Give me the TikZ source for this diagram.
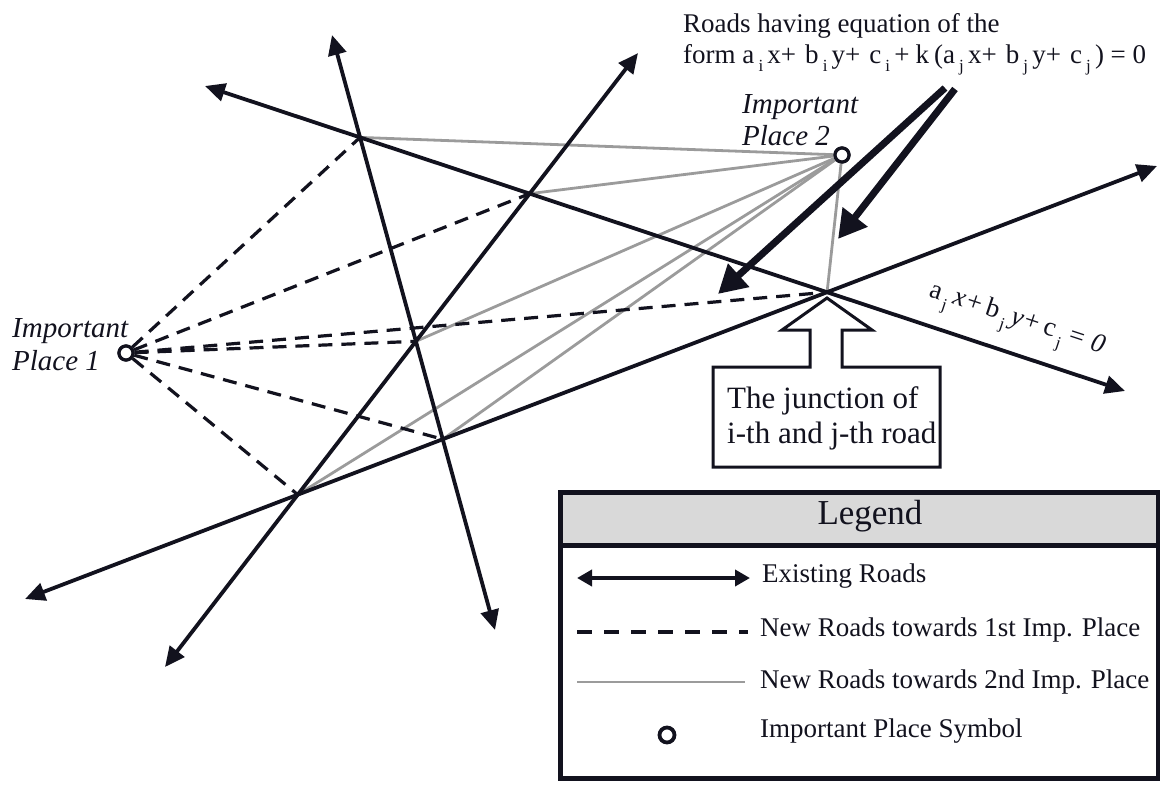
\documentclass[tikz,border=0pt]{standalone}
\usepackage{fontspec}
\setmainfont{Liberation Serif}
\usetikzlibrary{arrows.meta}
\definecolor{ink}{RGB}{18,18,30}
\definecolor{newgray}{RGB}{155,155,155}
\definecolor{hdr}{RGB}{217,217,217}
\newcommand\sbx[1]{\makebox[13pt][c]{\raisebox{-9pt}{\fontsize{17}{17}\selectfont #1}}}
\begin{document}
\begin{tikzpicture}[x=1pt,y=-1pt,
  road/.style={line width=3.8pt, draw=ink, {Triangle[length=20pt,width=18pt]}-{Triangle[length=20pt,width=18pt]}},
  legroad/.style={line width=3.8pt, draw=ink, {Triangle[length=15pt,width=16pt]}-{Triangle[length=15pt,width=16pt]}},
  newone/.style={line width=3.2pt, draw=ink, dash pattern=on 14pt off 9pt},
  newtwo/.style={line width=2.8pt, draw=newgray},
  place/.style={circle, draw=ink, line width=3.2pt, fill=white, minimum size=14pt, inner sep=0pt},
  bigarrow/.style={line width=7pt, draw=ink, -{Triangle[length=28pt,width=30pt]}},
  txt/.style={font=\fontsize{27}{31}\selectfont, inner sep=0pt, text=ink},
  itxt/.style={font=\fontsize{29}{32}\selectfont\itshape, inner sep=0pt, text=ink},
  jtxt/.style={font=\fontsize{31}{35}\selectfont, inner sep=0pt, text=ink}]
\useasboundingbox (0,0) rectangle (1160,787);

% road end points
\coordinate (A1) at (205,86);  \coordinate (A2) at (1125,391);
\coordinate (B1) at (332,35);  \coordinate (B2) at (495,630);
\coordinate (C1) at (638,53);  \coordinate (C2) at (165,667);
\coordinate (D1) at (25,599);  \coordinate (D2) at (1157,166);
% junctions
\coordinate (AB) at (intersection of A1--A2 and B1--B2);
\coordinate (AC) at (intersection of A1--A2 and C1--C2);
\coordinate (AD) at (intersection of A1--A2 and D1--D2);
\coordinate (BC) at (intersection of B1--B2 and C1--C2);
\coordinate (BD) at (intersection of B1--B2 and D1--D2);
\coordinate (CD) at (intersection of C1--C2 and D1--D2);

% important places
\node[place] (p1) at (126,353) {};
\node[place] (p2) at (842,155) {};

% new roads
\foreach \t in {AB,AC,AD,BC,BD,CD} {
  \draw[newtwo] (\t) -- (p2);
}
\foreach \t in {AB,AC,AD,BC,BD,CD} {
  \draw[newone] (p1) -- (\t);
}

% existing roads
\draw[road] (A1) -- (A2);
\draw[road] (B1) -- (B2);
\draw[road] (C1) -- (C2);
\draw[road] (D1) -- (D2);

% redraw places on top
\node[place] at (p1) {};
\node[place] at (p2) {};

% labels of places
\node[itxt, anchor=base west] (l1a) at (12,337) {Important};
\node[itxt, anchor=base west] (l1b) at (12,370) {Place 1};
\node[itxt, anchor=base west] (l2a) at (742,113) {Important};
\node[itxt, anchor=base west] (l2b) at (742,145) {Place 2};

% equation text
\node[txt, anchor=base west] (eq1) at (683,32) {Roads having equation of the};
\node[txt, anchor=base west] (eq2) at (683,63) {form a\sbx{i}x+\hspace{9pt}b\sbx{i}y+\hspace{9pt}c\sbx{i}+\hspace{6pt}k\hspace{5pt}(a\sbx{j}x+\hspace{9pt}b\sbx{j}y+\hspace{9pt}c\sbx{j}) = 0};

% big arrows
\coordinate (e1) at (945,88); \coordinate (t1) at (718,294);
\coordinate (e2) at (955,89); \coordinate (t2) at (838,239);
\draw[bigarrow] (e1) -- (t1);
\draw[bigarrow] (e2) -- (t2);

% road label
\node[txt, rotate=-18.3, anchor=center] (aj) at (1016,322)
  {a\sbx{j}\textit{x+}\hspace{4pt}b\sbx{j}\textit{y+}\hspace{4pt}c\sbx{j}\textit{= 0}};

% junction callout
\coordinate (tip) at (827,298);
\draw[line width=3pt, draw=ink, fill=white, line join=miter]
  (tip) -- (872,330) -- (842,330) -- (842,367) -- (940,367) -- (940,467)
  -- (713,467) -- (713,367) -- (810,367) -- (810,330) -- (782,330) -- cycle;
\node[jtxt, anchor=base west] (j1) at (727,408) {The junction of};
\node[jtxt, anchor=base west] (j2) at (727,443) {i-th and j-th road};

% legend
\fill[hdr] (560,492) rectangle (1158,545);
\draw[line width=5pt, draw=ink] (560,545) -- (1158,545);
\draw[line width=5pt, draw=ink] (560,492) rectangle (1158,778);
\node[txt, font=\fontsize{35}{38}\selectfont, anchor=mid] (lg) at (870,522) {Legend};

\coordinate (r1a) at (577,578); \coordinate (r1b) at (750,578);
\coordinate (r2a) at (577,632); \coordinate (r2b) at (748,632);
\coordinate (r3a) at (577,682); \coordinate (r3b) at (745,682);
\draw[legroad] (r1a) -- (r1b);
\draw[newone, dash pattern=on 15pt off 12pt] (r2a) -- (r2b);
\draw[newtwo] (r3a) -- (r3b);
\node[place, minimum size=15pt, line width=3.8pt] (lp) at (667,735) {};

\node[txt, anchor=mid west] (t1l) at (762,580) {Existing Roads};
\node[txt, anchor=mid west] (t2l) at (760,634) {New Roads towards 1st Imp. Place};
\node[txt, anchor=mid west] (t3l) at (760,686) {New Roads towards 2nd Imp. Place};
\node[txt, anchor=mid west] (t4l) at (760,735) {Important Place Symbol};
\end{tikzpicture}
\end{document}
